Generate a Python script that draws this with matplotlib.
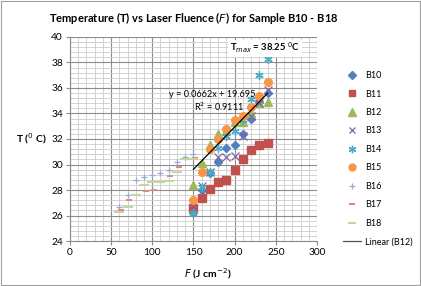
import matplotlib.pyplot as plt
import numpy as np
from matplotlib.ticker import MultipleLocator

plt.rcParams['font.family'] = ['Lato', 'DejaVu Sans']

# Fluence (J cm^-2)
F_alto = [150, 160, 170, 180, 190, 200, 210, 220, 230, 240]
F_baixo = [60, 70, 80, 90, 100, 110, 120, 130, 140, 150]
F_b17 = [62, 72, 82, 92, 102, 112, 122, 132, 142, 152]

# Temperatura (C)
B10 = [26.3, 28.0, 29.3, 30.2, 31.3, 31.5, 32.4, 33.6, 34.9, 35.6]
B11 = [26.6, 27.4, 28.1, 28.6, 28.8, 29.6, 30.4, 31.1, 31.5, 31.7]
B12 = [28.4, 30.1, 31.5, 32.4, 32.6, 33.3, 33.3, 34.0, 34.8, 34.9]
B13 = [26.5, 28.3, 29.4, 30.6, 30.6, 30.7, 32.2, 33.8, 34.8, 35.8]
B14 = [26.2, 28.2, 29.4, 31.3, 32.2, 32.6, 33.5, 35.1, 37.0, 38.25]
B15 = [27.2, 29.4, 31.2, 32.0, 32.8, 33.5, 33.8, 34.5, 35.4, 36.5]
B16 = [26.7, 27.6, 28.8, 29.0, 29.2, 29.3, 29.6, 30.2, 30.6, 30.8]
B17 = [26.4, 27.2, 27.6, 27.9, 28.0, 28.6, 29.1, 29.8, 30.4, 30.5]
B18 = [26.3, 26.7, 27.6, 28.4, 28.6, 28.6, 28.7, 29.4, 30.4, 30.4]

# Trendline (B12) do Excel
inclinacao = 0.0662
intercepto = 19.695
r2 = 0.9111
T_max = 38.25

fig = plt.figure(figsize=(4.21, 2.86), dpi=100)
ax = fig.add_axes([0.166, 0.157, 0.587, 0.714])

ax.plot(F_alto, B10, 'D', color='#4F81BD', markersize=4.5, linestyle='None', label='B10')
ax.plot(F_alto, B11, 's', color='#C0504D', markersize=5.5, linestyle='None', label='B11')
ax.plot(F_alto, B12, '^', color='#9BBB59', markersize=6, linestyle='None', label='B12')
ax.plot(F_alto, B13, 'x', color='#8064A2', markersize=5.5, markeredgewidth=0.9, linestyle='None', label='B13')
ax.plot(F_alto, B14, marker=(6, 2, 0), color='#4BACC6', markersize=6, markeredgewidth=1.0, linestyle='None', label='B14')
ax.plot(F_alto, B15, 'o', color='#F79646', markersize=5.5, linestyle='None', label='B15')
ax.plot(F_baixo, B16, '+', color='#9AA8DA', markersize=5, markeredgewidth=0.9, linestyle='None', label='B16')
ax.plot(F_b17, B17, '_', color='#DA8B8A', markersize=5, markeredgewidth=1.5, linestyle='None', label='B17')
ax.plot(F_baixo, B18, '_', color='#C3D69B', markersize=7, markeredgewidth=1.5, linestyle='None', label='B18')

xs = np.array([F_alto[0], F_alto[-1]])
ax.plot(xs, inclinacao * xs + intercepto, color='black', linewidth=0.9, label='Linear (B12)')

ax.set_xlim(0, 300)
ax.set_ylim(24, 40)
ax.xaxis.set_major_locator(MultipleLocator(50))
ax.xaxis.set_minor_locator(MultipleLocator(10))
ax.yaxis.set_major_locator(MultipleLocator(2))
ax.yaxis.set_minor_locator(MultipleLocator(0.4))
ax.grid(which='major', color='#8C8C8C', linewidth=0.8)
ax.grid(which='minor', color='#CCCCCC', linewidth=0.6)
ax.set_axisbelow(True)
for lado in ['top', 'right']:
    ax.spines[lado].set_visible(False)
for lado in ['left', 'bottom']:
    ax.spines[lado].set_color('#8C8C8C')
ax.tick_params(which='major', labelsize=7.3, length=3, color='#8C8C8C', pad=2)
ax.tick_params(which='minor', length=0)

ax.set_title('Temperature (T) vs Laser Fluence ($\\it{F}$) for Sample B10 - B18',
             fontsize=8.0, fontweight='bold', pad=11)
ax.set_xlabel('$\\bf{\\it{F}}$ (J cm$^{-2}$)', fontsize=7.5, fontweight='bold')
ax.xaxis.set_label_coords(0.56, -0.125)
ax.set_ylabel('T ($^{0}$ C)', fontsize=7.5, fontweight='bold', rotation=0, labelpad=14, va='center')

ax.text(225, 35.5, 'y = %.4fx + %.3f' % (inclinacao, intercepto), fontsize=6.6, ha='right', va='center')
ax.text(212, 34.5, 'R$^2$ = %.4f' % r2, fontsize=6.6, ha='right', va='center')
ax.text(237, 39.1, 'T$_{max}$ = %.2f $^{0}$C' % T_max, fontsize=6.8, fontweight='bold', ha='center', va='center',
        bbox=dict(facecolor='white', edgecolor='none', pad=1.2))

leg = fig.legend(loc='upper left', bbox_to_anchor=(0.795, 0.78), frameon=False, fontsize=6.5,
                 handlelength=2.0, labelspacing=1.05, handletextpad=0.5, markerscale=0.9)
for linha in leg.get_lines()[-1:]:
    linha.set_color('#555555')

fig.patches.append(plt.Rectangle((0.002, 0.003), 0.996, 0.994, transform=fig.transFigure,
                                 fill=False, edgecolor='#A0A0A0', linewidth=0.8))

fig.savefig('out.png', dpi=100)
